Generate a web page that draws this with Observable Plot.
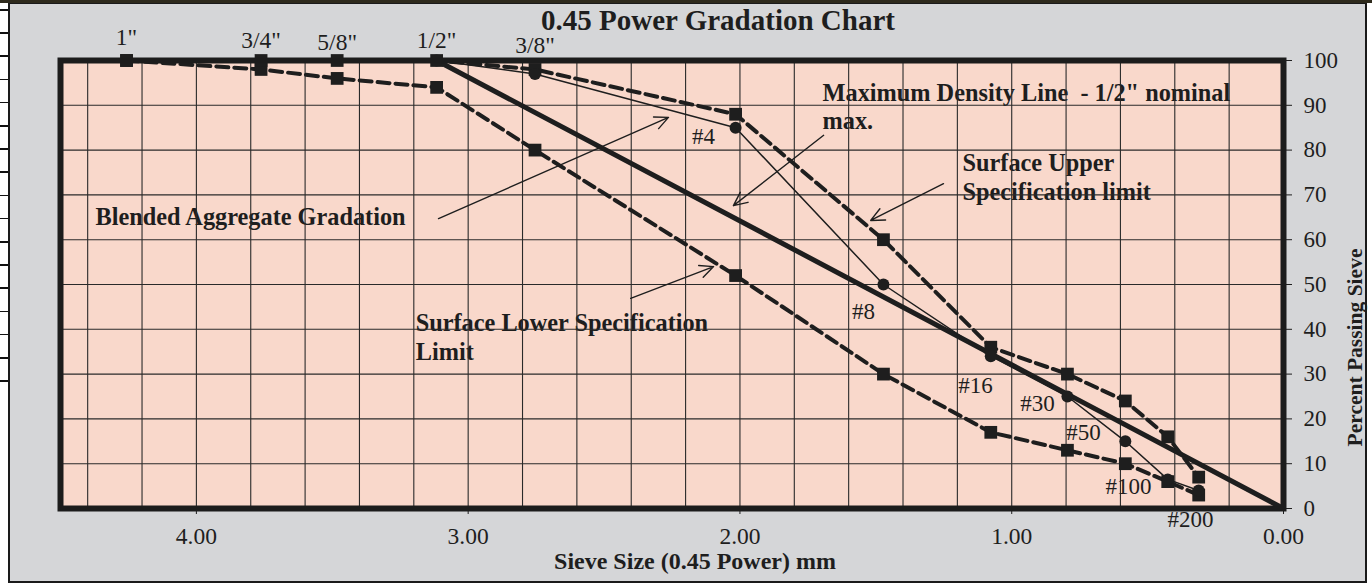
<!DOCTYPE html>
<html><head><meta charset="utf-8">
<script src="https://cdn.jsdelivr.net/npm/d3@7"></script>
<script src="https://cdn.jsdelivr.net/npm/@observablehq/plot@0.6"></script>
<style>
html,body{margin:0;padding:0;background:#fff;width:1372px;height:585px;overflow:hidden;}
#wrap{position:relative;width:1372px;height:585px;}
#strip{position:absolute;left:0;top:0;width:9px;height:388px;background:repeating-linear-gradient(to bottom,#fff 0,#fff 9px,#111 9px,#111 10.5px,#fff 10.5px,#fff 23.2px);}
#panel{position:absolute;left:8px;top:2px;width:1355px;height:577px;border:2px solid #1a1a1a;background:#d5d6d8;}
#topbar{position:absolute;left:0;top:0;width:1372px;height:3px;background:#2e2a1c;}
#chart{position:absolute;left:0;top:0;}
</style></head><body>
<div id="wrap"><div id="strip"></div><div id="panel"></div><div id="topbar"></div><div id="chart"></div></div>
<script>
// ---- data ----
const sieves = ['1"', '3/4"', '5/8"', '1/2"', '3/8"', '#4', '#8', '#16', '#30', '#50', '#100', '#200'];
const sieveX = [4.257, 3.762, 3.482, 3.116, 2.754, 2.016, 1.472, 1.077, 0.795, 0.582, 0.426, 0.312]; // sieve size (mm) ^ 0.45
const upperLimit = [100, 100, 100, 100, 98, 88, 60, 36, 30, 24, 16, 7];
const lowerLimit = [100, 98, 96, 94, 80, 52, 30, 17, 13, 10, 6, 3];
const blended = [null, null, null, 100, 97, 85, 50, 34, 25, 15, 6.5, 4];
const maxDensityX = [3.116, 0];
const maxDensityY = [100, 0];

const xTicks = [4, 3, 2, 1, 0];
const yTicks = [0, 10, 20, 30, 40, 50, 60, 70, 80, 90, 100];
const xGrid = [4.4, 4.2, 4.0, 3.8, 3.6, 3.4, 3.2, 3.0, 2.8, 2.6, 2.4, 2.2, 2.0, 1.8, 1.6, 1.4, 1.2, 1.0, 0.8, 0.6, 0.4, 0.2];
const yGrid = [10, 20, 30, 40, 50, 60, 70, 80, 90];

const topLabels = ['1"', '3/4"', '5/8"', '1/2"', '3/8"'];
const topLabelX = [4.257, 3.762, 3.482, 3.116, 2.754];
const topLabelY = [105.1, 104.5, 104.1, 104.5, 103.3];

const bottomLabels = ['#4', '#8', '#16', '#30', '#50', '#100', '#200'];
const bottomLabelX = [2.134, 1.545, 1.133, 0.905, 0.736, 0.570, 0.342];
const bottomLabelY = [83.0, 44.0, 27.5, 23.4, 17.0, 4.9, -2.5];

const noteText = ['Blended Aggregate Gradation', 'Maximum Density Line  - 1/2" nominal', 'max.',
  'Surface Upper', 'Specification limit', 'Surface Lower Specification', 'Limit'];
const noteX = [4.371, 1.696, 1.696, 1.181, 1.181, 3.193, 3.193];
const noteY = [65.0, 92.6, 86.4, 77.0, 70.5, 41.3, 34.8];

const arrowX1 = [3.109, 1.692, 1.251, 2.402];
const arrowY1 = [64.7, 83.3, 72.5, 46.9];
const arrowX2 = [2.263, 2.024, 1.519, 2.097];
const arrowY2 = [87.3, 67.6, 64.3, 54.0];

const title = "0.45 Power Gradation Chart";
const xLabel = "Sieve Size (0.45 Power) mm";
const yLabel = "Percent Passing Sieve";

// ---- tables ----
const rows = sieves.map((s, i) => ({sieve: s, x: sieveX[i], upper: upperLimit[i], lower: lowerLimit[i], blended: blended[i]}));
const blendRows = rows.filter(d => d.blended != null);
const mdl = maxDensityX.map((x, i) => ({x, y: maxDensityY[i]}));
const tops = topLabels.map((t, i) => ({t, x: topLabelX[i], y: topLabelY[i]}));
const bots = bottomLabels.map((t, i) => ({t, x: bottomLabelX[i], y: bottomLabelY[i]}));
const notes = noteText.map((t, i) => ({t, x: noteX[i], y: noteY[i]}));
const arrows = arrowX1.map((x1, i) => ({x1, y1: arrowY1[i], x2: arrowX2[i], y2: arrowY2[i]}));

const ink = "#1e1e1e";
const serif = "'Liberation Serif', 'Times New Roman', serif";

const chart = Plot.plot({
  width: 1372, height: 585,
  marginLeft: 60, marginRight: 89, marginTop: 60, marginBottom: 77,
  style: {fontFamily: serif, fontSize: "23px", background: "transparent", color: ink, overflow: "visible"},
  x: {domain: [4.5, 0]},
  y: {domain: [0, 100]},
  marks: [
    Plot.frame({fill: "#f9d8cb"}),
    Plot.text(notes, {x: "x", y: "y", text: "t", textAnchor: "start", fontWeight: "bold", fontSize: 24.3, fill: ink}),
    Plot.ruleX(xGrid, {stroke: "#2a2a2a", strokeWidth: 1.1}),
    Plot.ruleY(yGrid, {stroke: "#2a2a2a", strokeWidth: 1.1}),
    Plot.arrow(arrows, {x1: "x1", y1: "y1", x2: "x2", y2: "y2", stroke: ink, strokeWidth: 1.4, headLength: 16, headAngle: 50}),
    Plot.line(mdl, {x: "x", y: "y", stroke: ink, strokeWidth: 5}),
    Plot.line(rows, {x: "x", y: "lower", stroke: ink, strokeWidth: 4, strokeDasharray: "12,6"}),
    Plot.line(rows, {x: "x", y: "upper", stroke: ink, strokeWidth: 4, strokeDasharray: "12,6"}),
    Plot.line(blendRows, {x: "x", y: "blended", stroke: ink, strokeWidth: 1.5}),
    Plot.dot(rows, {x: "x", y: "lower", symbol: "square", r: 7.2, fill: ink}),
    Plot.dot(rows, {x: "x", y: "upper", symbol: "square", r: 7.2, fill: ink}),
    Plot.dot(blendRows, {x: "x", y: "blended", symbol: "circle", r: 6, fill: ink}),
    Plot.text(tops, {x: "x", y: "y", text: "t", fontSize: 23.5, fill: ink}),
    Plot.text(bots, {x: "x", y: "y", text: "t", fontSize: 23, fill: ink}),
    Plot.axisX({ticks: xTicks, tickFormat: d3.format(".2f"), tickSize: 6, tickPadding: 13, label: null, fontSize: 23.5, anchor: "bottom"}),
    Plot.axisY({ticks: yTicks, tickSize: 8, tickPadding: 12, label: null, fontSize: 23, anchor: "right"}),
    Plot.text([title], {frameAnchor: "top", lineAnchor: "middle", dx: 46, dy: -40, fontSize: 29, fontWeight: "bold", fill: ink}),
    Plot.text([xLabel], {frameAnchor: "bottom", lineAnchor: "middle", dx: 23, dy: 53, fontSize: 24, fontWeight: "bold", fill: ink}),
    Plot.text([yLabel], {frameAnchor: "right", textAnchor: "middle", lineAnchor: "middle", dx: 72, dy: 63, rotate: -90, fontSize: 21.5, fontWeight: "bold", fill: ink}),
    Plot.frame({stroke: "#1c1c1c", strokeWidth: 6})
  ]
});
document.getElementById("chart").appendChild(chart);
</script>
</body></html>
